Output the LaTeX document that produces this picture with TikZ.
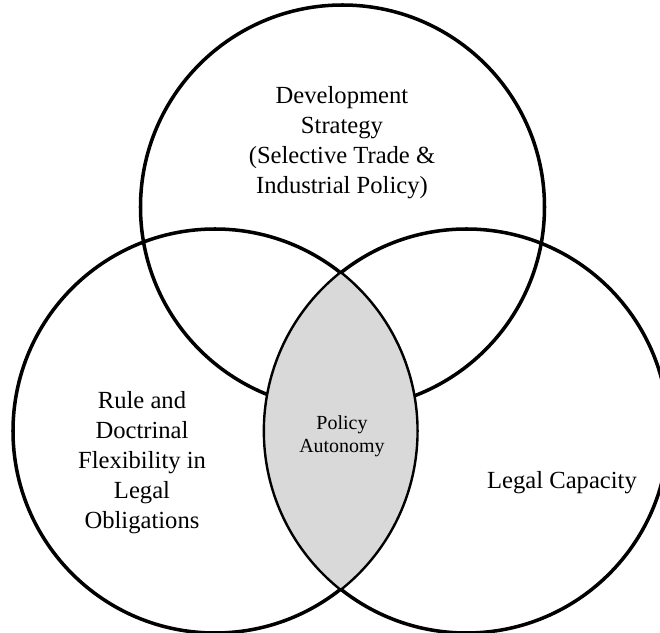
\documentclass[tikz,border=0pt]{standalone}
\usepackage{fontspec}
\setmainfont{Liberation Serif}
\usepackage{tikz}
\usetikzlibrary{calc, positioning}

\begin{document}
\begin{tikzpicture} [x = 0.025cm, y = 0.025cm,
        ring/.style = {line width = 2.5pt},
        lens/.style = {fill = black!15, draw = black, line width = 0.9pt},
        bigtext/.style = {align = center, font = \fontsize{17.5}{21.3}\selectfont},
        smalltext/.style = {align = center, font = \fontsize{14.2}{16.3}\selectfont}]
        \clip (0,0) rectangle (660,633);
        \coordinate (T) at (342.5, 426);
        \coordinate (L) at (215, 202);
        \coordinate (R) at (466.4, 202);
        \coordinate (ttop) at (340.7, 360.1);
        \coordinate (tbot) at (340.7, 43.9);
        \draw[ring] (T) circle (202);
        \draw[ring] (L) circle (202);
        \draw[ring] (R) circle (202);
        \filldraw[lens] (ttop) arc[start angle = 128.48, end angle = 231.52, radius = 202]
            arc[start angle = -51.52, end angle = 51.52, radius = 202] -- cycle;
        \node[bigtext] (dev) at (342, 490) {Development\\Strategy\\(Selective Trade \&\\Industrial Policy)};
        \node[bigtext] (rule) at (142, 170.5) {Rule and\\Doctrinal\\Flexibility in\\Legal\\Obligations};
        \node[smalltext] (auto) at (342, 196.5) {Policy\\Autonomy};
        \node[bigtext] (cap) at (562, 150) {Legal Capacity};
    \end{tikzpicture}
\end{document}
